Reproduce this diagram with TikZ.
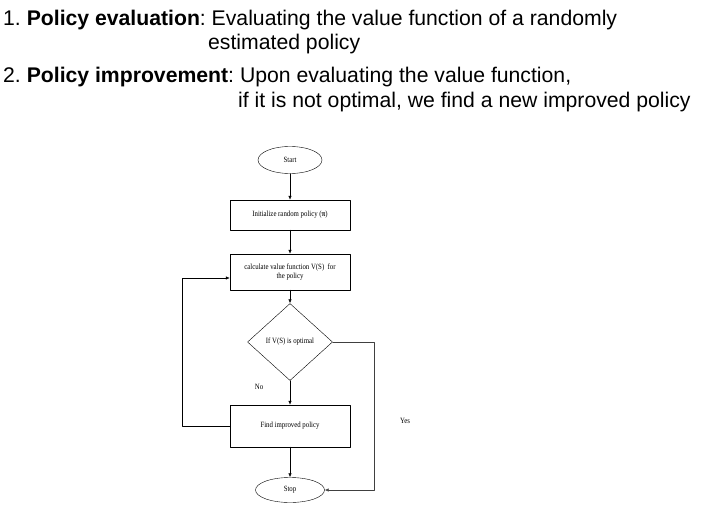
\documentclass[tikz,border=0pt]{standalone}
\usepackage{fontspec}
\setmainfont{Liberation Serif}
\newfontfamily\arialfont{Liberation Sans}
\newfontfamily\schemafont[FakeStretch=0.85]{Liberation Serif}
\usetikzlibrary{shapes.geometric, arrows.meta}
\frenchspacing

\begin{document}
\begin{tikzpicture}[x=1pt, y=-1pt, line cap=round, line join=round,
  testo/.style={anchor=base west, inner sep=0pt, font=\arialfont\fontsize{21.2}{24}\selectfont},
  piccolo/.style={font=\schemafont\fontsize{8}{9.5}\selectfont},
  blocco/.style={draw, rectangle, minimum width=120pt, align=center, piccolo},
  ovale/.style={draw, ellipse, minimum width=64pt, minimum height=27pt, piccolo},
  rombo/.style={draw, diamond, inner sep=0pt, minimum width=85pt, minimum height=77pt, piccolo},
  freccia/.style={-{Latex[length=4pt, width=3.5pt]}, line width=0.6pt}]

\useasboundingbox (0,0) rectangle (708,510);

% testo in alto
\node[testo] (t1) at (3,26) {1. \textbf{Policy evaluation}: Evaluating the value function of a randomly};
\node[testo] (t2) at (208,50) {estimated policy};
\node[testo] (t3) at (3,83) {2. \textbf{Policy improvement}: Upon evaluating the value function,};
\node[testo] (t4) at (238,108) {if it is not optimal, we find a new improved policy};

% blocchi
\node[ovale] (start) at (290,160) {Start};
\node[blocco, minimum height=30pt] (init) at (290,215) {Initialize random policy (\textbf{π})};
\node[blocco, minimum height=36pt] (calc) at (290,272) {calculate value function V(S)\ \ for\\the policy};
\node[rombo] (test) at (290,342) {If V(S) is optimal};
\node[blocco, minimum height=42pt] (find) at (290,426) {Find improved policy};
\node[ovale, minimum width=69pt, minimum height=25pt] (stop) at (290,490) {Stop};

% frecce
\draw[freccia] (start) -- (init);
\draw[freccia] (init) -- (calc);
\draw[freccia] (calc) -- (test);
\draw[freccia] (test) -- (find);
\draw[freccia] (find) -- (stop);
\draw[freccia] (find.west) -- (182,426) -- (182,278) -- (calc.west |- 0,278);
\draw[freccia, black!75] (test.east) -- (374,342) -- (374,490) -- (stop.east);

% etichette
\node[piccolo] (no) at (259,387) {No};
\node[piccolo] (yes) at (405,421) {Yes};

\end{tikzpicture}
\end{document}
